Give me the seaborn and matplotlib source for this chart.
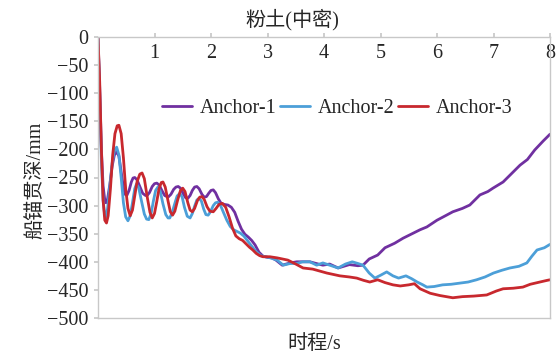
import pandas as pd
import matplotlib
matplotlib.use("Agg")
import matplotlib.pyplot as plt
import seaborn as sns

# values (time in s, penetration in mm)
t1 = [0.00, 0.03, 0.06, 0.09, 0.12, 0.14, 0.17, 0.21, 0.25, 0.29, 0.33, 0.37, 0.41, 0.45, 0.48,
      0.51, 0.55, 0.59, 0.62, 0.65, 0.69, 0.74, 0.79, 0.84, 0.87, 0.91, 0.96, 1.00, 1.04, 1.08,
      1.13, 1.18, 1.24, 1.29, 1.34, 1.38, 1.42, 1.46, 1.51, 1.55, 1.59, 1.63, 1.67, 1.71, 1.75,
      1.79, 1.84, 1.88, 1.92, 1.96, 2.00, 2.04, 2.08, 2.13, 2.18, 2.24, 2.30, 2.36, 2.42, 2.48,
      2.54, 2.60, 2.66, 2.72, 2.78, 2.85, 2.92, 3.00, 3.08, 3.15, 3.26, 3.40, 3.52, 3.75, 3.90,
      3.98, 4.10, 4.25, 4.35, 4.45, 4.60, 4.69, 4.80, 4.95, 5.08, 5.25, 5.40, 5.52, 5.70, 5.82,
      6.00, 6.15, 6.28, 6.45, 6.58, 6.76, 6.90, 6.99, 7.17, 7.30, 7.47, 7.60, 7.73, 7.88, 8.00]
d1 = [0, -90, -200, -265, -290, -295, -288, -262, -230, -210, -204, -212, -240, -268, -280,
      -282, -273, -258, -251, -250, -254, -266, -278, -282, -282, -277, -266, -261, -260, -263,
      -273, -282, -285, -280, -271, -267, -266, -269, -279, -286, -287, -282, -273, -267, -266,
      -270, -280, -285, -284, -278, -273, -272, -277, -288, -296, -298, -299, -303, -312, -328,
      -342, -351, -356, -362, -370, -383, -390, -392, -393, -397, -406, -402, -400, -400, -404,
      -406, -404, -411, -408, -405, -407, -406, -395, -388, -375, -367, -358, -352, -343, -338,
      -326, -318, -311, -305, -299, -281, -275, -269, -258, -245, -228, -218, -201, -185, -173]

t2 = [0.00, 0.03, 0.06, 0.09, 0.12, 0.14, 0.17, 0.21, 0.25, 0.29, 0.33, 0.37, 0.41, 0.45, 0.49,
      0.53, 0.57, 0.61, 0.65, 0.68, 0.72, 0.77, 0.82, 0.86, 0.90, 0.94, 0.98, 1.02, 1.06, 1.10,
      1.15, 1.20, 1.24, 1.27, 1.31, 1.36, 1.40, 1.45, 1.49, 1.53, 1.58, 1.63, 1.67, 1.71, 1.75,
      1.79, 1.83, 1.87, 1.91, 1.95, 1.99, 2.04, 2.08, 2.12, 2.17, 2.22, 2.28, 2.34, 2.40, 2.46,
      2.52, 2.58, 2.65, 2.72, 2.80, 2.88, 2.96, 3.05, 3.17, 3.28, 3.40, 3.52, 3.62, 3.75, 3.87,
      3.98, 4.10, 4.25, 4.38, 4.50, 4.60, 4.69, 4.80, 4.90, 5.00, 5.11, 5.22, 5.32, 5.45, 5.55,
      5.65, 5.75, 5.82, 5.95, 6.10, 6.25, 6.40, 6.55, 6.70, 6.85, 7.00, 7.15, 7.29, 7.45, 7.59,
      7.68, 7.77, 7.90, 8.00]
d2 = [0, -100, -220, -290, -318, -320, -305, -265, -225, -202, -196, -210, -250, -295, -320,
      -327, -318, -295, -270, -262, -268, -292, -315, -324, -325, -314, -292, -273, -267, -274,
      -297, -316, -322, -322, -313, -296, -283, -278, -285, -303, -319, -322, -314, -301, -290,
      -287, -292, -306, -316, -317, -311, -300, -295, -294, -300, -312, -326, -337, -343, -346,
      -349, -354, -363, -372, -382, -389, -391, -393, -397, -406, -403, -403, -400, -400, -406,
      -402, -406, -411, -404, -400, -403, -406, -420, -429, -424, -418, -425, -429, -425, -430,
      -436, -441, -445, -444, -441, -440, -438, -436, -432, -427, -420, -415, -411, -408, -402,
      -390, -379, -375, -369]

t3 = [0.00, 0.03, 0.06, 0.09, 0.12, 0.15, 0.18, 0.22, 0.26, 0.30, 0.34, 0.37, 0.41, 0.45, 0.49,
      0.53, 0.57, 0.61, 0.65, 0.69, 0.74, 0.78, 0.82, 0.87, 0.92, 0.96, 1.00, 1.04, 1.08, 1.12,
      1.15, 1.19, 1.24, 1.28, 1.32, 1.36, 1.41, 1.46, 1.50, 1.54, 1.59, 1.63, 1.67, 1.71, 1.76,
      1.80, 1.84, 1.88, 1.93, 1.98, 2.04, 2.09, 2.14, 2.20, 2.26, 2.32, 2.38, 2.44, 2.50, 2.56,
      2.62, 2.68, 2.74, 2.80, 2.86, 2.92, 3.04, 3.17, 3.36, 3.50, 3.63, 3.80, 4.05, 4.28, 4.45,
      4.58, 4.70, 4.81, 4.95, 5.08, 5.22, 5.35, 5.50, 5.60, 5.70, 5.88, 6.05, 6.28, 6.45, 6.65,
      6.88, 7.05, 7.17, 7.35, 7.52, 7.65, 7.82, 7.95, 8.00]
d3 = [0, -80, -200, -290, -326, -331, -318, -270, -210, -172, -158, -157, -172, -215, -270,
      -305, -318, -308, -283, -258, -244, -242, -252, -284, -312, -322, -314, -293, -270, -259,
      -258, -267, -292, -311, -317, -310, -290, -273, -269, -275, -295, -308, -311, -305, -291,
      -285, -284, -289, -302, -310, -311, -305, -298, -296, -303, -320, -340, -354, -359, -362,
      -368, -374, -379, -385, -389, -391, -391, -393, -397, -404, -411, -413, -420, -425, -427,
      -429, -433, -436, -432, -437, -441, -443, -441, -439, -448, -456, -460, -464, -462, -461,
      -459, -452, -448, -447, -445, -440, -436, -433, -432]

names = ["Anchor-1", "Anchor-2", "Anchor-3"]
colors = ["#7030A0", "#4C9FD8", "#C8282E"]
xticks = [1, 2, 3, 4, 5, 6, 7, 8]
yticks = [0, -50, -100, -150, -200, -250, -300, -350, -400, -450, -500]

df = pd.concat([
    pd.DataFrame({"t": t1, "d": d1, "anchor": names[0]}),
    pd.DataFrame({"t": t2, "d": d2, "anchor": names[1]}),
    pd.DataFrame({"t": t3, "d": d3, "anchor": names[2]}),
], ignore_index=True)

sns.set_theme(style="white")
plt.rcParams["font.family"] = ["Liberation Serif", "Noto Sans CJK SC"]
plt.rcParams["axes.unicode_minus"] = True

fig = plt.figure(figsize=(5.6, 3.53), dpi=100)
ax = fig.add_axes([98 / 560, 1 - 318 / 353, 452 / 560, 281 / 353])

sns.lineplot(data=df, x="t", y="d", hue="anchor", palette=dict(zip(names, colors)),
             estimator=None, sort=False, linewidth=2.0, ax=ax)

ax.set_xlim(0, 8)
ax.set_ylim(-500, 0)
ax.set_xticks(xticks)
ax.set_yticks(yticks)
for s in ax.spines.values():
    s.set_color("#C8C8C8")
    s.set_linewidth(1.0)

ax.tick_params(axis="x", top=True, bottom=False, labeltop=True, labelbottom=False,
               direction="out", length=3, color="#C8C8C8", pad=-21.5, labelsize=14.5)
ax.tick_params(axis="y", left=True, direction="out", length=3, color="#C8C8C8",
               pad=4, labelsize=14.5)

ax.xaxis.set_label_position("bottom")
ax.set_xlabel("时程/s", fontsize=14.5)
ax.xaxis.set_label_coords(0.478, -0.06)
ax.set_ylabel("船锚贯深/mm", fontsize=14.5)
ax.yaxis.set_label_coords(-0.117, 0.49)
ax.text(0.43, 1.06, "粉土(中密)", transform=ax.transAxes, ha="center", va="center", fontsize=14.5)

ax.legend(loc="center", bbox_to_anchor=(0.529, 0.747), ncol=3, frameon=False,
          fontsize=14.5, handlelength=1.5, handletextpad=0.35, columnspacing=0.2,
          borderpad=0, borderaxespad=0)

fig.savefig("out.png", dpi=100)
